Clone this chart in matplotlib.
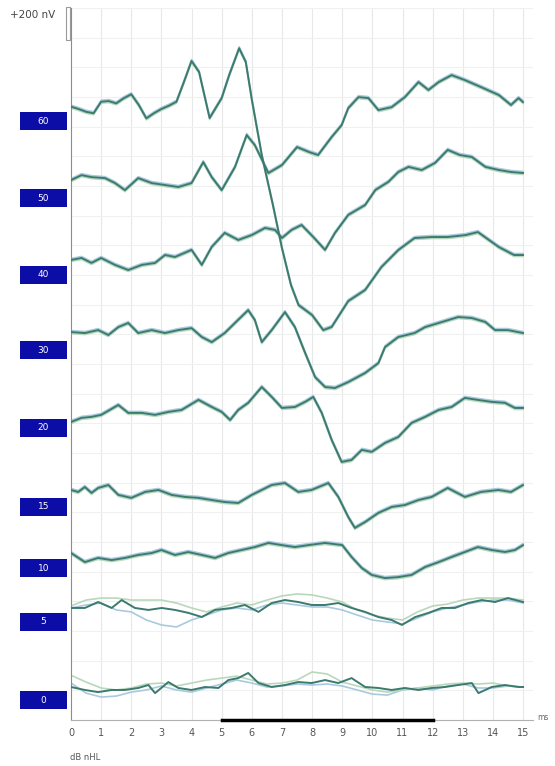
import numpy as np
import matplotlib.pyplot as plt
from matplotlib.patches import Rectangle
from matplotlib.transforms import blended_transform_factory

# ABR waveforms, amplitude in nV relative to each level's marker
levels = [60, 50, 40, 30, 20, 15, 10, 5, 0]
# marker positions (nV above bottom of the plot)
marker_nv = [3630, 3163, 2697, 2242, 1770, 1291, 921, 594, 121]

t60 = [0, 0.25, 0.5, 0.75, 1.0, 1.25, 1.5, 1.75, 2.0, 2.25, 2.5, 2.75, 3.0, 3.25, 3.5, 3.75, 4.0, 4.25,
       4.6, 5.0, 5.25, 5.58, 5.8, 6.0, 6.33, 6.7, 7.0, 7.3, 7.55, 8.0, 8.37, 8.65, 9.2, 9.76, 10.3, 10.86,
       11.4, 11.97, 12.5, 13.1, 13.5, 14.2, 14.7, 15.0]
v60 = [87, 73, 56, 47, 117, 121, 107, 138, 162, 97, 16, 47, 73, 93, 117, 238, 364, 297,
       18, 139, 279, 441, 358, 130, -206, -509, -770, -994, -1115, -1176, -1267, -1248, -1091, -1024, -885, -782,
       -709, -703, -703, -691, -673, -764, -812, -812]

t50 = [0, 0.35, 0.68, 1.13, 1.46, 1.79, 2.23, 2.68, 3.12, 3.56, 4.0, 4.39, 4.67, 5.0, 5.44, 5.83, 6.1, 6.55,
       7.0, 7.5, 7.9, 8.2, 8.65, 8.98, 9.2, 9.54, 9.87, 10.2, 10.64, 11.08, 11.53, 11.86, 12.2, 12.63, 13.07,
       13.6, 14.2, 14.6, 14.85, 15.0]
v50 = [109, 139, 127, 121, 91, 48, 121, 91, 79, 67, 91, 218, 127, 48, 188, 382, 321, 152,
       200, 309, 279, 261, 370, 442, 545, 612, 606, 533, 551, 612, 703, 655, 703, 745, 715,
       673, 624, 564, 606, 582]

t40 = [0, 0.35, 0.68, 1.0, 1.46, 1.9, 2.35, 2.79, 3.12, 3.45, 4.0, 4.34, 4.67, 5.1, 5.55, 6.0, 6.44, 6.77,
       7.0, 7.32, 7.65, 8.04, 8.43, 8.76, 9.2, 9.76, 10.1, 10.53, 10.86, 11.2, 11.64, 12.08, 12.5, 12.9, 13.3,
       13.75, 14.2, 14.6, 15.0]
v40 = [91, 103, 73, 103, 61, 30, 61, 73, 121, 109, 152, 61, 170, 255, 212, 242, 285, 273,
       224, 273, 303, 230, 152, 255, 364, 424, 515, 564, 624, 655, 636, 679, 758, 727, 715,
       655, 636, 624, 618]

t30 = [0, 0.46, 0.9, 1.24, 1.57, 1.9, 2.23, 2.68, 3.12, 3.56, 4.0, 4.34, 4.67, 5.1, 5.44, 5.88, 6.1, 6.33,
       6.66, 7.1, 7.43, 7.77, 8.1, 8.43, 8.76, 9.2, 9.76, 10.2, 10.42, 10.86, 11.4, 11.75, 12.2, 12.85, 13.3,
       13.75, 14.07, 14.5, 15.0]
v30 = [109, 103, 121, 91, 139, 164, 103, 121, 103, 121, 133, 79, 48, 103, 164, 242, 182, 48,
       121, 230, 139, -18, -164, -224, -230, -194, -139, -79, 18, 79, 103, 139, 164, 200, 194,
       170, 121, 121, 103]

t20 = [0, 0.35, 0.68, 1.0, 1.57, 1.9, 2.35, 2.79, 3.23, 3.67, 4.23, 4.67, 5.0, 5.28, 5.55, 5.88, 6.33, 6.66,
       7.0, 7.43, 7.77, 8.04, 8.32, 8.65, 8.98, 9.31, 9.65, 9.98, 10.42, 10.86, 11.3, 11.75, 12.2, 12.63, 13.07,
       13.5, 13.96, 14.4, 14.73, 15.0]
v20 = [36, 61, 67, 79, 139, 91, 91, 79, 97, 109, 170, 127, 97, 48, 109, 152, 248, 188,
       121, 127, 158, 188, 91, -73, -206, -194, -133, -145, -91, -55, 30, 67, 109, 127, 182,
       170, 158, 152, 121, 121]

t15 = [0, 0.24, 0.46, 0.68, 0.9, 1.24, 1.57, 2.0, 2.46, 2.9, 3.34, 3.78, 4.23, 4.67, 5.1, 5.55, 6.0, 6.66,
       7.1, 7.54, 7.98, 8.54, 8.87, 9.2, 9.42, 9.76, 10.2, 10.64, 11.08, 11.53, 11.97, 12.5, 13.07, 13.6, 14.18,
       14.6, 15.0]
v15 = [103, 91, 121, 85, 115, 133, 73, 55, 91, 103, 73, 61, 55, 42, 30, 24, 73, 133,
       145, 91, 103, 145, 61, -61, -127, -91, -36, 0, 12, 42, 61, 115, 61, 91, 103,
       91, 133]

t10 = [0, 0.46, 0.9, 1.35, 1.79, 2.23, 2.68, 3.0, 3.45, 3.89, 4.34, 4.78, 5.22, 5.66, 6.1, 6.55, 6.99, 7.43,
       7.88, 8.43, 9.0, 9.31, 9.65, 9.98, 10.42, 10.86, 11.3, 11.75, 12.2, 12.63, 13.07, 13.5, 13.96, 14.4,
       14.73, 15.0]
v10 = [91, 36, 61, 48, 61, 79, 91, 109, 79, 97, 79, 61, 91, 109, 127, 152, 139, 127,
       139, 152, 139, 67, 0, -42, -61, -55, -42, 6, 36, 67, 97, 127, 109, 97,
       109, 139]

t5 = [0, 0.46, 0.9, 1.35, 1.68, 2.12, 2.57, 3.01, 3.45, 3.9, 4.34, 4.78, 5.33, 5.77, 6.22, 6.66, 7.1, 7.54,
      7.99, 8.43, 8.87, 9.31, 9.76, 10.2, 10.64, 10.98, 11.42, 11.86, 12.3, 12.74, 13.18, 13.63, 14.07, 14.5,
      15.0]
v5 = [85, 85, 121, 85, 133, 85, 73, 85, 73, 55, 30, 73, 85, 103, 61, 115, 133, 121,
      103, 103, 115, 85, 61, 30, 12, -18, 30, 55, 85, 85, 115, 133, 121, 145,
      121]

t0 = [0, 0.46, 0.9, 1.35, 1.79, 2.23, 2.57, 2.79, 3.23, 3.56, 4.0, 4.45, 4.89, 5.22, 5.55, 5.88, 6.22, 6.66,
      7.1, 7.54, 7.99, 8.43, 8.87, 9.31, 9.76, 10.2, 10.64, 11.08, 11.53, 11.97, 12.41, 12.85, 13.3, 13.52,
      13.96, 14.4, 14.85, 15.0]
v0 = [79, 61, 48, 61, 61, 73, 91, 42, 109, 73, 61, 79, 73, 121, 133, 164, 103, 79,
      91, 109, 103, 121, 103, 133, 79, 73, 61, 73, 61, 73, 79, 91, 103, 42,
      79, 91, 79, 79]

# replicate sweeps that drift away from the average at the two lowest levels
t_rep = [0, 0.5, 1.0, 1.5, 2.0, 2.5, 3.0, 3.5, 4.0, 4.5, 5.0, 5.5, 6.0, 6.5, 7.0, 7.5, 8.0, 8.5, 9.0,
         9.5, 10.0, 10.5, 11.0, 11.5, 12.0, 12.5, 13.0, 13.5, 14.0, 14.5, 15.0]
v5_a = [85, 103, 115, 73, 61, 12, -18, -30, 12, 42, 73, 85, 73, 103, 115, 103, 91, 91, 73,
        42, 12, 0, -12, 24, 61, 85, 103, 121, 133, 133, 115]
v5_b = [97, 133, 145, 145, 133, 133, 133, 115, 85, 61, 91, 115, 103, 133, 158, 170, 164, 145, 121,
        73, 42, 24, 12, 61, 97, 109, 133, 145, 145, 145, 133]
v0_a = [103, 42, 18, 24, 48, 61, 85, 61, 48, 73, 97, 121, 103, 79, 85, 97, 91, 97, 85,
        61, 36, 30, 61, 73, 61, 85, 97, 73, 73, 85, 79]
v0_b = [150, 109, 73, 61, 73, 97, 103, 85, 103, 121, 133, 145, 121, 97, 103, 121, 170, 158, 109,
        85, 61, 48, 61, 73, 85, 97, 103, 97, 103, 85, 79]

times = [t60, t50, t40, t30, t20, t15, t10, t5, t0]
values = [v60, v50, v40, v30, v20, v15, v10, v5, v0]
replicates = {5: (v5_a, v5_b), 0: (v0_a, v0_b)}

ymax = 4315
fig = plt.figure(figsize=(5.55, 7.66), dpi=100)
ax = fig.add_axes([71 / 555, 1 - 720 / 766, 462 / 555, 712 / 766])
ax.set_xlim(0, 15.33)
ax.set_ylim(0, ymax)

# grid
for x in range(1, 16):
    ax.axvline(x, color="#e8e8e8", lw=0.8, zorder=0)
for y in np.linspace(0, ymax, 25)[1:]:
    ax.axhline(y, color="#f0f0f0", lw=0.8, zorder=0)

for lev, t, v, base in zip(levels, times, values, marker_nv):
    y = np.array(v) + base
    if lev in replicates:
        ra, rb = replicates[lev]
        ax.plot(t_rep, np.array(ra) + base, color="#a9c9df", lw=1.2, zorder=2)
        ax.plot(t_rep, np.array(rb) + base, color="#b8d8bb", lw=1.2, zorder=2)
    else:
        ax.plot(t, y + 9, color="#a9c9df", lw=1.2, zorder=2)
        ax.plot(t, y - 9, color="#b8d8bb", lw=1.2, zorder=2)
    ax.plot(t, y, color="#3b7a6e", lw=1.4, zorder=3)

# level markers
trans = blended_transform_factory(fig.transFigure, ax.transData)
for lev, base in zip(levels, marker_nv):
    ax.add_patch(Rectangle((20 / 555, base - 55), 47 / 555, 110, transform=trans,
                           facecolor="#0c0ca6", edgecolor="none", clip_on=False))
    ax.text(43.5 / 555, base, str(lev), transform=trans, color="white",
            fontsize=6.5, ha="center", va="center")

# scale bar
fig.patches.append(Rectangle((66 / 555, 1 - 40 / 766), 4 / 555, 33 / 766,
                             transform=fig.transFigure, facecolor="white",
                             edgecolor="#9a9a9a", lw=0.8))
fig.text(33 / 555, 1 - 15 / 766, "+200 nV", fontsize=7.5, color="#444444",
         ha="center", va="center")

for s in ["top", "right"]:
    ax.spines[s].set_visible(False)
ax.spines["left"].set_color("#8c8c8c")
ax.spines["bottom"].set_color("#b0b0b0")
ax.plot([5, 12], [0, 0], color="black", lw=2.5, clip_on=False, zorder=5)

ax.set_xticks(range(16))
ax.set_yticks([])
ax.tick_params(axis="x", length=0, pad=6, labelsize=7, labelcolor="#555555")

fig.text(537 / 555, 1 - 717 / 766, "ms", fontsize=5.5, color="#666666", va="center")
fig.text(70 / 555, 1 - 757 / 766, "dB nHL", fontsize=6, color="#555555", va="center")

fig.savefig("out.png", dpi=100)
